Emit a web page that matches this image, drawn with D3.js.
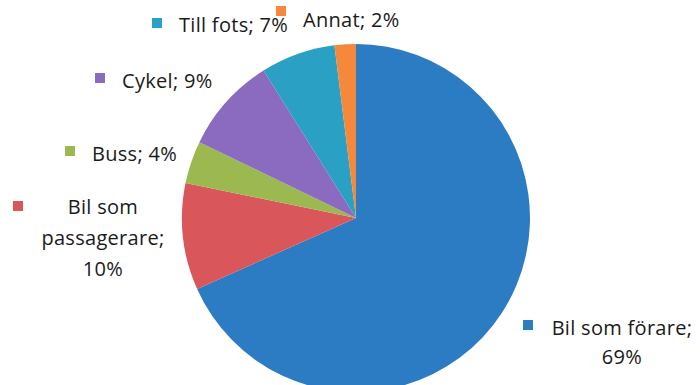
<!DOCTYPE html>
<html>
<head>
<meta charset="utf-8">
<script src="https://cdn.jsdelivr.net/npm/d3@7"></script>
<style>
  body { margin: 0; background: #fff; }
  text { font-family: "Open Sans", "Noto Sans", sans-serif; fill: #1a1a1a; }
</style>
</head>
<body>
<script>
(function(){
    // Categories and shares, clockwise from 12 o'clock
    var categories = ["Bil som förare", "Bil som passagerare", "Buss", "Cykel", "Till fots", "Annat"];
    var shares = [69, 10, 4, 9, 7, 2];
    var colors = ["#2c7cc4", "#d9565a", "#9cb850", "#8a6bbf", "#2aa0c4", "#f5883a"];
    // Label text lines per slice
    var labelLines = [
        ["Bil som förare;", "69%"],
        ["Bil som", "passagerare;", "10%"],
        ["Buss; 4%"],
        ["Cykel; 9%"],
        ["Till fots; 7%"],
        ["Annat; 2%"]
    ];

    var width = 700, height = 385;
    var cx = 356, cy = 218, radius = 174;

    var svg = d3.select("body").append("svg")
        .attr("width", width)
        .attr("height", height);

    var pie = d3.pie().sort(null).value(function(d){ return d; });
    var arc = d3.arc().innerRadius(0).outerRadius(radius);

    var arcs = pie(shares);

    svg.append("g")
        .attr("transform", "translate(" + cx + "," + cy + ")")
        .selectAll("path")
        .data(arcs)
        .enter()
        .append("path")
        .attr("d", arc)
        .attr("fill", function(d, i){ return colors[i]; });

    // Label placement (text anchor point, legend key position), like Excel's data labels
    var labelPos = [
        {x: 622, y: 335, key: [523, 320], anchor: "middle", lineH: 29},
        {x: 103, y: 214, key: [13, 201], anchor: "middle", lineH: 31},
        {x: 92, y: 161, key: [65, 146], anchor: "start", lineH: 0},
        {x: 122, y: 88, key: [95, 73], anchor: "start", lineH: 0},
        {x: 179, y: 32, key: [152, 18], anchor: "start", lineH: 0},
        {x: 303, y: 27, key: [276, 6], anchor: "start", lineH: 0}
    ];

    var labels = svg.append("g").selectAll("g")
        .data(arcs)
        .enter()
        .append("g");

    labels.append("rect")
        .attr("x", function(d, i){ return labelPos[i].key[0]; })
        .attr("y", function(d, i){ return labelPos[i].key[1]; })
        .attr("width", 10)
        .attr("height", 10)
        .attr("fill", function(d, i){ return colors[i]; });

    labels.each(function(d, i){
        var p = labelPos[i];
        var t = d3.select(this).append("text")
            .attr("text-anchor", p.anchor)
            .attr("font-size", 20)
            .attr("letter-spacing", 0.3);
        labelLines[i].forEach(function(line, j){
            t.append("tspan")
                .attr("x", p.x)
                .attr("y", p.y + j * p.lineH)
                .text(line);
        });
    });
})();
</script>
</body>
</html>
